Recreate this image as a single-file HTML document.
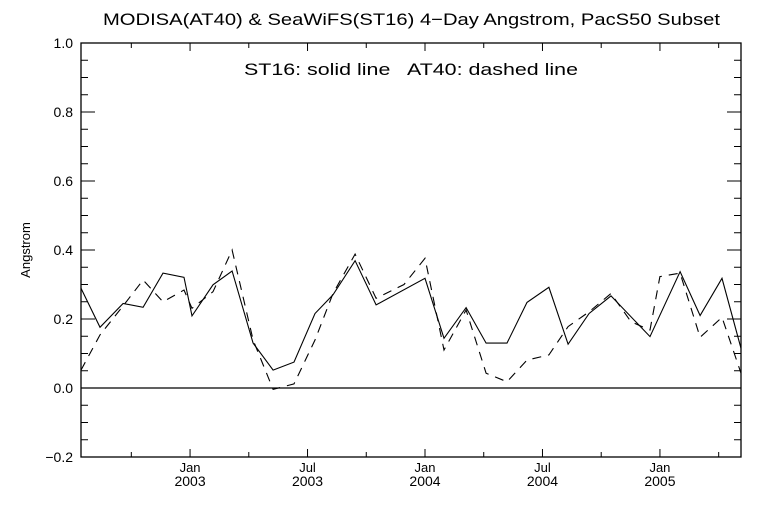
<!DOCTYPE html>
<html><head><meta charset="utf-8"><style>
body{margin:0;background:#fff}
svg text{font-family:"Liberation Sans",sans-serif;fill:#000}
</style></head><body>
<svg id="chart" width="768" height="512" viewBox="0 0 768 512" xmlns="http://www.w3.org/2000/svg">
<rect width="768" height="512" fill="#fff"/>
<text x="103" y="25" font-size="17" textLength="617" lengthAdjust="spacingAndGlyphs">MODISA(AT40) &amp; SeaWiFS(ST16) 4−Day Angstrom, PacS50 Subset</text>
<text x="244" y="75" font-size="17" textLength="334" lengthAdjust="spacingAndGlyphs" xml:space="preserve">ST16: solid line   AT40: dashed line</text>
<text transform="translate(30,250) rotate(-90)" font-size="13" text-anchor="middle">Angstrom</text>
<g id="axes"></g>
<g id="series"></g>
</svg>
<script>
// x values are months since Jan 2003
const st16X = [-5.57,-4.60,-3.42,-2.40,-1.38,-0.31,0.10,1.17,2.15,3.22,4.24,5.31,6.38,7.30,8.43,9.50,12.00,12.97,14.10,15.12,16.19,17.21,18.33,19.31,20.38,21.50,23.49,25.03,26.05,27.17,28.14];
const st16Y = [0.289,0.176,0.245,0.234,0.333,0.321,0.209,0.299,0.339,0.130,0.052,0.075,0.216,0.270,0.369,0.241,0.318,0.144,0.233,0.130,0.130,0.248,0.292,0.127,0.216,0.267,0.149,0.337,0.210,0.318,0.115];
const at40X = [-5.57,-4.60,-3.42,-2.40,-1.38,-0.31,0.10,1.17,2.15,3.22,4.24,5.31,6.38,7.30,8.43,9.50,10.93,12.00,12.97,14.10,15.12,16.19,17.21,18.33,19.31,20.38,21.50,22.52,23.49,24.00,25.03,26.05,27.17,28.14];
const at40Y = [0.052,0.154,0.238,0.313,0.250,0.284,0.231,0.279,0.400,0.139,-0.004,0.012,0.139,0.274,0.388,0.260,0.300,0.376,0.110,0.226,0.043,0.018,0.081,0.096,0.178,0.221,0.274,0.192,0.168,0.323,0.333,0.147,0.205,0.043];
const yTicks = [-0.2,0.0,0.2,0.4,0.6,0.8,1.0];
const yTickLabels = ["−0.2","0.0","0.2","0.4","0.6","0.8","1.0"];
const xTicks = [0,6,12,18,24];
const xTickMonth = ["Jan","Jul","Jan","Jul","Jan"];
const xTickYear = ["2003","2003","2004","2004","2005"];
const xMinor = [-3,3,9,15,21,27];

const L=81,R=741,T=43,B=457, X0=-5.57,X1=28.14, Y0=-0.2,Y1=1.0;
const sx=m=>L+(m-X0)/(X1-X0)*(R-L);
const sy=v=>B-(v-Y0)/(Y1-Y0)*(B-T);
const NS="http://www.w3.org/2000/svg";
function mk(tag,attrs,parent){const e=document.createElementNS(NS,tag);for(const k in attrs)e.setAttribute(k,attrs[k]);parent.appendChild(e);return e;}
const ax=document.getElementById('axes'), se=document.getElementById('series');
const frame=mk('rect',{x:L,y:T,width:R-L,height:B-T,fill:'none',stroke:'#000','stroke-width':1.3},ax);


const zl=mk('line',{x1:L,x2:R,y1:sy(0),y2:sy(0),stroke:'#000','stroke-width':1.3},ax);


for(let v=-0.2;v<=1.0001;v+=0.05){
  const major=Math.abs(Math.round(v*5)-v*5)<1e-6;
  const len=major?14:7, y=sy(v);
  mk('line',{x1:L,x2:L+len,y1:y,y2:y,stroke:'#000','stroke-width':1},ax);
  mk('line',{x1:R,x2:R-len,y1:y,y2:y,stroke:'#000','stroke-width':1},ax);
}
yTicks.forEach((v,i)=>{
  const t=mk('text',{x:73,y:sy(v)+5,'font-size':14,'text-anchor':'end'},ax);
  t.textContent=yTickLabels[i];
  
  
});
xTicks.forEach((m,i)=>{
  const x=sx(m);
  mk('line',{x1:x,x2:x,y1:B,y2:B-8,stroke:'#000','stroke-width':1},ax);
  mk('line',{x1:x,x2:x,y1:T,y2:T+8,stroke:'#000','stroke-width':1},ax);
  const t1=mk('text',{x:x,y:B+15,'font-size':13,'text-anchor':'middle'},ax);
  t1.textContent=xTickMonth[i];
  
  
  const t2=mk('text',{x:x,y:B+29,'font-size':14,'text-anchor':'middle'},ax);
  t2.textContent=xTickYear[i];
  
  
});
xMinor.forEach(m=>{
  const x=sx(m);
  mk('line',{x1:x,x2:x,y1:B,y2:B-5,stroke:'#000','stroke-width':1},ax);
  mk('line',{x1:x,x2:x,y1:T,y2:T+5,stroke:'#000','stroke-width':1},ax);
});
function pts(xs,ys){return xs.map((m,i)=>sx(m).toFixed(1)+','+sy(ys[i]).toFixed(1)).join(' ');}
const s1=mk('polyline',{points:pts(st16X,st16Y),fill:'none',stroke:'#000','stroke-width':1.1},se);


const s2=mk('polyline',{points:pts(at40X,at40Y),fill:'none',stroke:'#000','stroke-width':1.1,'stroke-dasharray':'9,7'},se);


</script>
</body></html>
